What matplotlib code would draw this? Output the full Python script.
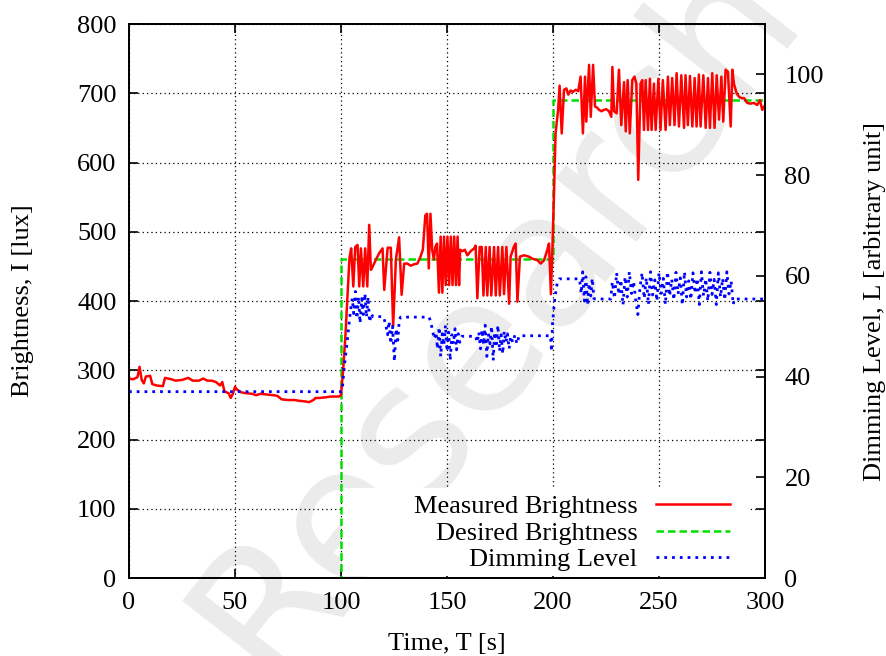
import matplotlib
matplotlib.use('Agg')
import matplotlib.pyplot as plt
from matplotlib.patches import Rectangle

# measured brightness I [lux] as (time [s], value), one list per set-point phase
measured_phase1 = [
    (0, 288), (2, 287), (4, 290), (5, 305), (6, 286), (7, 281), (8, 291), (10, 292),
    (11, 280), (13, 278), (16, 277), (17, 289), (20, 287), (22, 285), (25, 286),
    (28, 289), (30, 285), (33, 285), (35, 288), (37, 285), (39, 285), (41, 283),
    (43, 278), (44, 283), (45, 270), (46, 268), (47, 267), (48, 260), (49, 266),
    (50, 276), (51, 272), (53, 268), (55, 267), (58, 266), (60, 264), (62, 266),
    (65, 265), (68, 264), (70, 263), (72, 258), (75, 257), (78, 257), (80, 256),
    (83, 255), (85, 254), (87, 257), (88, 260), (90, 260), (93, 261), (95, 262),
    (97, 262), (99, 262), (100, 264),
]
measured_phase2 = [
    (101, 300), (102, 345), (103, 405), (104, 462), (104.8, 476), (105.8, 421),
    (106.7, 478), (107.8, 481), (108.6, 421), (109.4, 476), (110.5, 421), (111.4, 476),
    (112.4, 421), (113.3, 510), (114.1, 445), (115, 450), (116.5, 460), (118, 469),
    (119.6, 476), (120.4, 416), (122, 477), (123.5, 477), (124.6, 363), (125.9, 460),
    (127.4, 492), (128.6, 409), (129.8, 454), (131.3, 454), (132.9, 451), (134.4, 453),
    (136, 454), (137.5, 464), (138.6, 474), (139.8, 524), (140.6, 526), (141.4, 447),
    (142.2, 526), (143, 474), (143.8, 460), (144.5, 478), (145.3, 483), (146.2, 412),
    (147.0, 493), (147.8, 412), (148.6, 493), (149.4, 423), (150.2, 493), (151.0, 423),
    (151.8, 493), (152.6, 423), (153.4, 493), (154.2, 423), (155.0, 493), (155.7, 423),
    (156.2, 474), (157.3, 472), (158.4, 474), (159.6, 466), (161.2, 472), (162.8, 476),
    (163.5, 480), (164.3, 404), (165.4, 478), (166.4, 478), (167.2, 408), (168.3, 478),
    (169.0, 408), (170.1, 478), (170.9, 408), (172.2, 478), (173.0, 408), (174.1, 478),
    (174.9, 408), (176.1, 478), (176.9, 410), (178.0, 478), (179.3, 396), (180.0, 464),
    (181.6, 479), (182.4, 483), (183.2, 399), (184.4, 464), (186.3, 466), (188.7, 464),
    (190.3, 461), (192.6, 459), (194.2, 454), (195.8, 459), (197.3, 474), (198.1, 483),
    (199.0, 410), (199.7, 475),
]
measured_phase3 = [
    (200.5, 560), (201.2, 642), (202.4, 676), (203.1, 711), (204.1, 642), (205.2, 705),
    (206.3, 707), (207.2, 698), (208.3, 704), (209.4, 702), (210.7, 705), (211.9, 703),
    (213.0, 724), (214.1, 642), (215.1, 724), (215.7, 659), (217.0, 741), (217.8, 666),
    (218.9, 741), (219.8, 681), (220.9, 679), (221.7, 676), (222.9, 674), (224.0, 676),
    (225.1, 677), (226.4, 674), (227.5, 666), (228.0, 738), (228.8, 674), (230.0, 671),
    (231.1, 734), (232.2, 654), (233.5, 716), (234.3, 645), (235.2, 719), (236.2, 642),
    (237.4, 719), (238.4, 724), (239.3, 714), (240.2, 575), (241.3, 714), (242.1, 719),
    (242.9, 647), (243.7, 719), (244.8, 647), (245.7, 721), (246.5, 647), (247.6, 714),
    (248.4, 647), (249.7, 721), (250.7, 647), (251.8, 719), (253.1, 647), (254.2, 724),
    (255.1, 654), (256.2, 722), (257.3, 654), (258.3, 729), (259.4, 652), (260.5, 726),
    (261.8, 650), (262.5, 726), (263.6, 654), (264.6, 725), (265.7, 652), (266.8, 722),
    (267.7, 652), (268.8, 727), (269.6, 652), (270.9, 726), (272.0, 650), (273.1, 722),
    (274.0, 650), (275.1, 729), (276.2, 650), (277.2, 726), (278.3, 662), (279.4, 724),
    (280.3, 659), (281.4, 734), (282.5, 731), (283.8, 652), (284.6, 734), (285.3, 714),
    (286.6, 700), (287.7, 695), (288.8, 693), (290.1, 693), (291.6, 686), (293.2, 685),
    (294.8, 686), (296.3, 683), (297.6, 690), (298.7, 676), (300, 683),
]

# desired brightness set-points [lux], held from each time until the next
desired_t = [0, 100, 200, 300]
desired_lux = [0, 460, 690, 690]

# dimming level L [arbitrary unit] as (time [s], value)
dimming_phase1 = [(0, 37), (100, 37)]
dimming_phase2 = [
    (100.6, 37.3), (101.4, 41.3), (103, 47.3), (104.5, 53.2), (105.3, 55.5),
    (106, 52.5), (106.8, 56.9), (107.5, 51.5), (108.3, 55.8), (109, 50.6), (109.8, 55.5),
    (110.5, 52.3), (111.3, 56.5), (112, 51.8), (112.8, 55.8), (113.5, 50.8), (114.3, 52.5),
    (115, 51.9), (120, 51.9), (121, 50.5), (122, 48.3), (122.7, 51), (123.5, 46.5),
    (124.3, 50), (125.2, 43.0), (126, 49.5), (126.8, 47.2), (127.5, 51.2), (128.1, 51.8),
    (141.5, 51.8), (142.3, 51.0), (143.2, 49.0), (144, 47.5), (144.8, 48.8), (145.5, 45.5),
    (146.3, 49.8), (147, 44.0), (147.8, 48.5), (148.5, 46.2), (149.3, 50.2), (150, 45.0),
    (150.8, 48.8), (151.5, 43.2), (152.3, 48.3), (153, 46.5), (153.8, 49.5), (154.5, 45.3),
    (155.3, 48.5), (156, 46.8), (157, 48.0), (163.5, 48.0), (164.3, 46.8), (165, 48.8),
    (165.8, 45.5), (166.5, 49.3), (167.3, 46.3), (168, 50.2), (168.8, 44.0), (169.5, 48.5),
    (170.3, 46.5), (171, 50.0), (171.8, 43.2), (172.5, 48.8), (173.3, 46.5), (174, 50.2),
    (174.8, 45.0), (175.5, 48.3), (176.3, 44.5), (177, 49.0), (177.8, 46.8), (178.5, 48.5),
    (179.3, 45.5), (180, 48.0), (181, 46.8), (182, 48.2), (183, 46.5), (184, 48.1),
    (198.8, 48.1), (199.3, 45.0), (199.8, 50.7),
]
dimming_phase3 = [
    (200.4, 53.5), (201, 56.0), (202, 58.6), (203, 59.4), (212.5, 59.4), (213.3, 56.5),
    (214, 60.8), (214.8, 55.0), (215.5, 59.8), (216.3, 54.2), (217, 58.5), (217.8, 56.0),
    (218.5, 59.5), (219.3, 55.5), (220, 55.4), (227.2, 55.4), (228, 58.8), (229, 55.5),
    (230, 60.6), (231, 56.3), (232, 59.2), (233, 54.2), (234, 59.8), (235, 55.8),
    (236, 60.8), (237, 56.5), (238, 58.9), (239, 55.2), (240, 52.3), (241, 57.6),
    (242, 60.6), (243, 55.5), (244, 59.6), (245, 54.3), (246, 60.8), (247, 56.2),
    (248, 59.2), (249, 55.0), (250, 60.6), (251, 56.5), (252, 59.5), (253, 54.3),
    (254, 60.8), (255, 56.0), (256, 59.3), (257, 55.2), (258, 60.7), (259, 56.4),
    (260, 59.6), (261, 54.2), (262, 60.8), (263, 55.8), (264, 59.0), (265, 55.3),
    (266, 60.6), (267, 56.5), (268, 59.5), (269, 54.3), (270, 60.8), (271, 56.0),
    (272, 59.4), (273, 55.0), (274, 60.7), (275, 56.3), (276, 59.3), (277, 54.3),
    (278, 60.6), (279, 55.8), (280, 59.5), (281, 55.2), (282, 60.8), (283, 56.4),
    (284, 59.0), (285, 54.3), (285.5, 55.4), (300, 55.4),
]

measured = measured_phase1 + measured_phase2 + measured_phase3
dimming = dimming_phase1 + dimming_phase2 + dimming_phase3
meas_t, meas_lux = zip(*measured)
dim_t, dim_level = zip(*dimming)

plt.rcParams['font.family'] = ['Liberation Serif', 'DejaVu Serif']
plt.rcParams['font.size'] = 19

fig = plt.figure(figsize=(8.87, 6.56), dpi=100)
fig.text(0.56, 0.52, 'Research', rotation=52, ha='center', va='center',
         fontsize=135, color='#ebebeb', family='DejaVu Sans', zorder=-1)

ax = fig.add_axes([0.1454, 0.1189, 0.7171, 0.8445])
ax.set_facecolor('none')
ax2 = ax.twinx()

l1, = ax.plot(meas_t, meas_lux, color='red', lw=1.8, zorder=3)
l2, = ax.plot(desired_t, desired_lux, color='#00e000', lw=1.8, ls=(0, (3, 1.6)),
              drawstyle='steps-post', zorder=2)
l3, = ax2.plot(dim_t, dim_level, color='blue', lw=2.0, ls=(0, (1, 1.8)))

ax.set_xlim(0, 300)
ax.set_ylim(0, 800)
ax.set_xticks(range(0, 301, 50))
ax.set_yticks(range(0, 801, 100))
ax2.set_ylim(0, 110)
ax2.set_yticks(range(0, 101, 20))

ax.grid(True, color='black', lw=0.9, ls=(0, (1, 2.5)))
ax.tick_params(direction='in', length=6.5, width=1.2, top=True, right=True, pad=9)
ax.tick_params(axis='x', pad=10)
ax2.tick_params(direction='in', length=6.5, width=1.2, pad=14)
for a in (ax, ax2):
    for s in a.spines.values():
        s.set_linewidth(1.3)

ax.set_xlabel('Time, T [s]')
ax.set_ylabel('Brightness, I [lux]')
ax2.set_ylabel('Dimming Level, L [arbitrary unit]')
ax.xaxis.set_label_coords(0.5, -0.1)
ax.yaxis.set_label_coords(-0.15, 0.5)
ax2.yaxis.set_label_coords(1.155, 0.5)

# opaque key area: hides the grid behind the legend, lines stay on top
ax.add_patch(Rectangle((0.335, 0.004), 0.638, 0.158, transform=ax.transAxes,
                       facecolor='white', edgecolor='none', zorder=1.6))

leg = ax2.legend([l1, l2, l3], ['Measured Brightness', 'Desired Brightness', 'Dimming Level'],
                 loc='lower right', bbox_to_anchor=(0.955, 0.0), markerfirst=False,
                 frameon=False, handlelength=2.8, handletextpad=0.7,
                 labelspacing=0.12, borderpad=0.25, borderaxespad=0)

fig.savefig('out.png', dpi=100)
